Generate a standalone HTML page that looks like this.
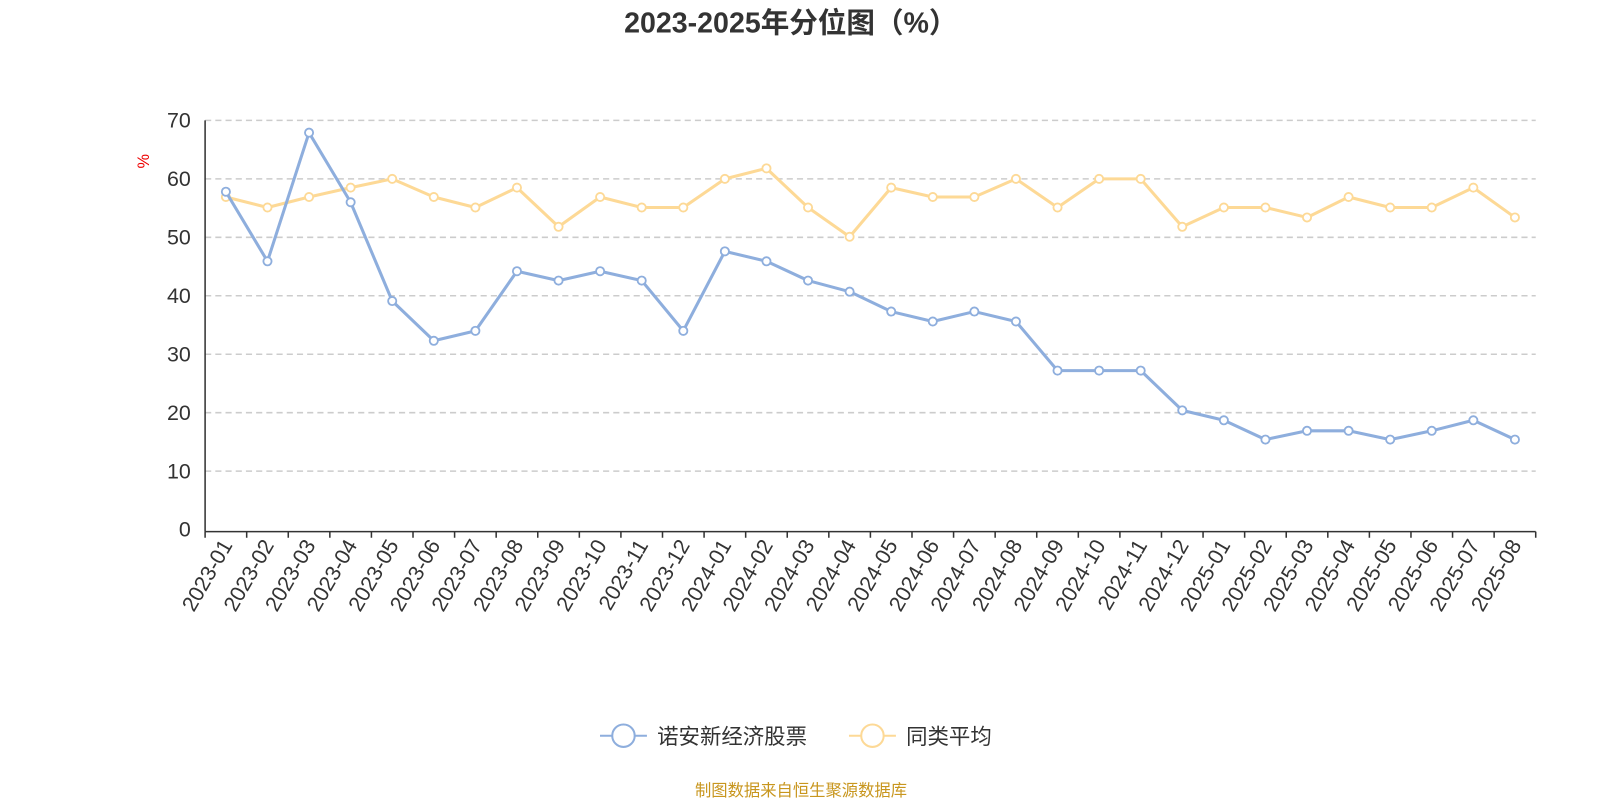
<!DOCTYPE html>
<html><head><meta charset="utf-8"><style>
body{margin:0;background:#fff;width:1600px;height:800px;overflow:hidden;font-family:"Liberation Sans","Noto Sans CJK SC",sans-serif}
</style></head><body>
<svg id="chart" width="1600" height="800" viewBox="0 0 1568 784" xmlns="http://www.w3.org/2000/svg">
<text x="775" y="32" text-anchor="middle" font-size="28" font-weight="bold" fill="#333" font-family="Liberation Sans,Noto Sans CJK SC,sans-serif">2023-2025年分位图（%）</text>
<text x="0" y="0" transform="translate(146,158) rotate(-90)" text-anchor="middle" font-size="16" fill="#e00">%</text>
<g id="grid"></g><g id="axes"></g><g id="series"></g>
<g>
<g><line x1="588" y1="721" x2="634" y2="721" stroke="#8eaedd" stroke-width="2"/><circle cx="611" cy="721" r="11" fill="#fff" stroke="#8eaedd" stroke-width="2"/><text x="644" y="729" font-size="21" fill="#333">诺安新经济股票</text></g>
<g><line x1="832" y1="721" x2="878" y2="721" stroke="#fdd996" stroke-width="2"/><circle cx="855" cy="721" r="11" fill="#fff" stroke="#fdd996" stroke-width="2"/><text x="888" y="729" font-size="21" fill="#333">同类平均</text></g>
</g>
<text x="785" y="780" text-anchor="middle" font-size="16" fill="#c8961e">制图数据来自恒生聚源数据库</text>
</svg>
<script>
const categories=["2023-01","2023-02","2023-03","2023-04","2023-05","2023-06","2023-07","2023-08","2023-09","2023-10","2023-11","2023-12","2024-01","2024-02","2024-03","2024-04","2024-05","2024-06","2024-07","2024-08","2024-09","2024-10","2024-11","2024-12","2025-01","2025-02","2025-03","2025-04","2025-05","2025-06","2025-07","2025-08"];
const fundValues=[57.8,45.9,67.9,56.0,39.1,32.3,34.0,44.2,42.6,44.2,42.6,34.0,47.6,45.9,42.6,40.7,37.3,35.6,37.3,35.6,27.2,27.2,27.2,20.4,18.7,15.4,16.9,16.9,15.4,16.9,18.7,15.4];
const avgValues=[56.9,55.1,56.9,58.5,60.0,56.9,55.1,58.5,51.8,56.9,55.1,55.1,60.0,61.8,55.1,50.1,58.5,56.9,56.9,60.0,55.1,60.0,60.0,51.8,55.1,55.1,53.4,56.9,55.1,55.1,58.5,53.4];
const yTicks=[0,10,20,30,40,50,60,70];
const NS="http://www.w3.org/2000/svg";
const x0=201,x1=1505,y0=519,y1=118,yMax=70;
const bw=(x1-x0)/categories.length;
const xs=i=>x0+bw*(i+0.5);
const ys=v=>y0-(v/yMax)*(y0-y1);
function mk(t,a,p){const e=document.createElementNS(NS,t);for(const k in a)e.setAttribute(k,a[k]);p.appendChild(e);return e;}
const grid=document.getElementById('grid'),axes=document.getElementById('axes'),ser=document.getElementById('series');
yTicks.forEach(v=>{
  if(v>0){const g=mk('line',{x1:x0,x2:x1,y1:ys(v),y2:ys(v),stroke:'#ccc','stroke-dasharray':'6,4','stroke-width':1.5},grid);
  
  }
  const t=mk('text',{x:x0-14,y:ys(v)+7,'text-anchor':'end','font-size':21,fill:'#333'},axes);t.textContent=v;
  
  
});
const ya=mk('line',{x1:x0,x2:x0,y1:y1,y2:y0+2,stroke:'#333','stroke-width':1.5},axes);


const xa=mk('line',{x1:x0,x2:x1,y1:y0+2,y2:y0+2,stroke:'#333','stroke-width':1.5},axes);


for(let i=0;i<=categories.length;i++){mk('line',{x1:x0+bw*i,x2:x0+bw*i,y1:y0+2,y2:y0+8,stroke:'#333','stroke-width':1.5},axes);}
categories.forEach((c,i)=>{
  const t=mk('text',{transform:`translate(${xs(i)+7},${y0+15}) rotate(-60)`,'text-anchor':'end','font-size':21,fill:'#333'},axes);t.textContent=c;
  
  
});
function drawSeries(vals,color,name){
  const p=mk('polyline',{points:vals.map((v,i)=>xs(i)+','+ys(v)).join(' '),fill:'none',stroke:color,'stroke-width':3,'stroke-linejoin':'round'},ser);
  
  
  vals.forEach((v,i)=>{const c=mk('circle',{cx:xs(i),cy:ys(v),r:4,fill:'#fff',stroke:color,'stroke-width':1.8},ser);
  
  });
}
drawSeries(avgValues,'#fdd996','average');
drawSeries(fundValues,'#8eaedd','fund');
</script>
</body></html>
